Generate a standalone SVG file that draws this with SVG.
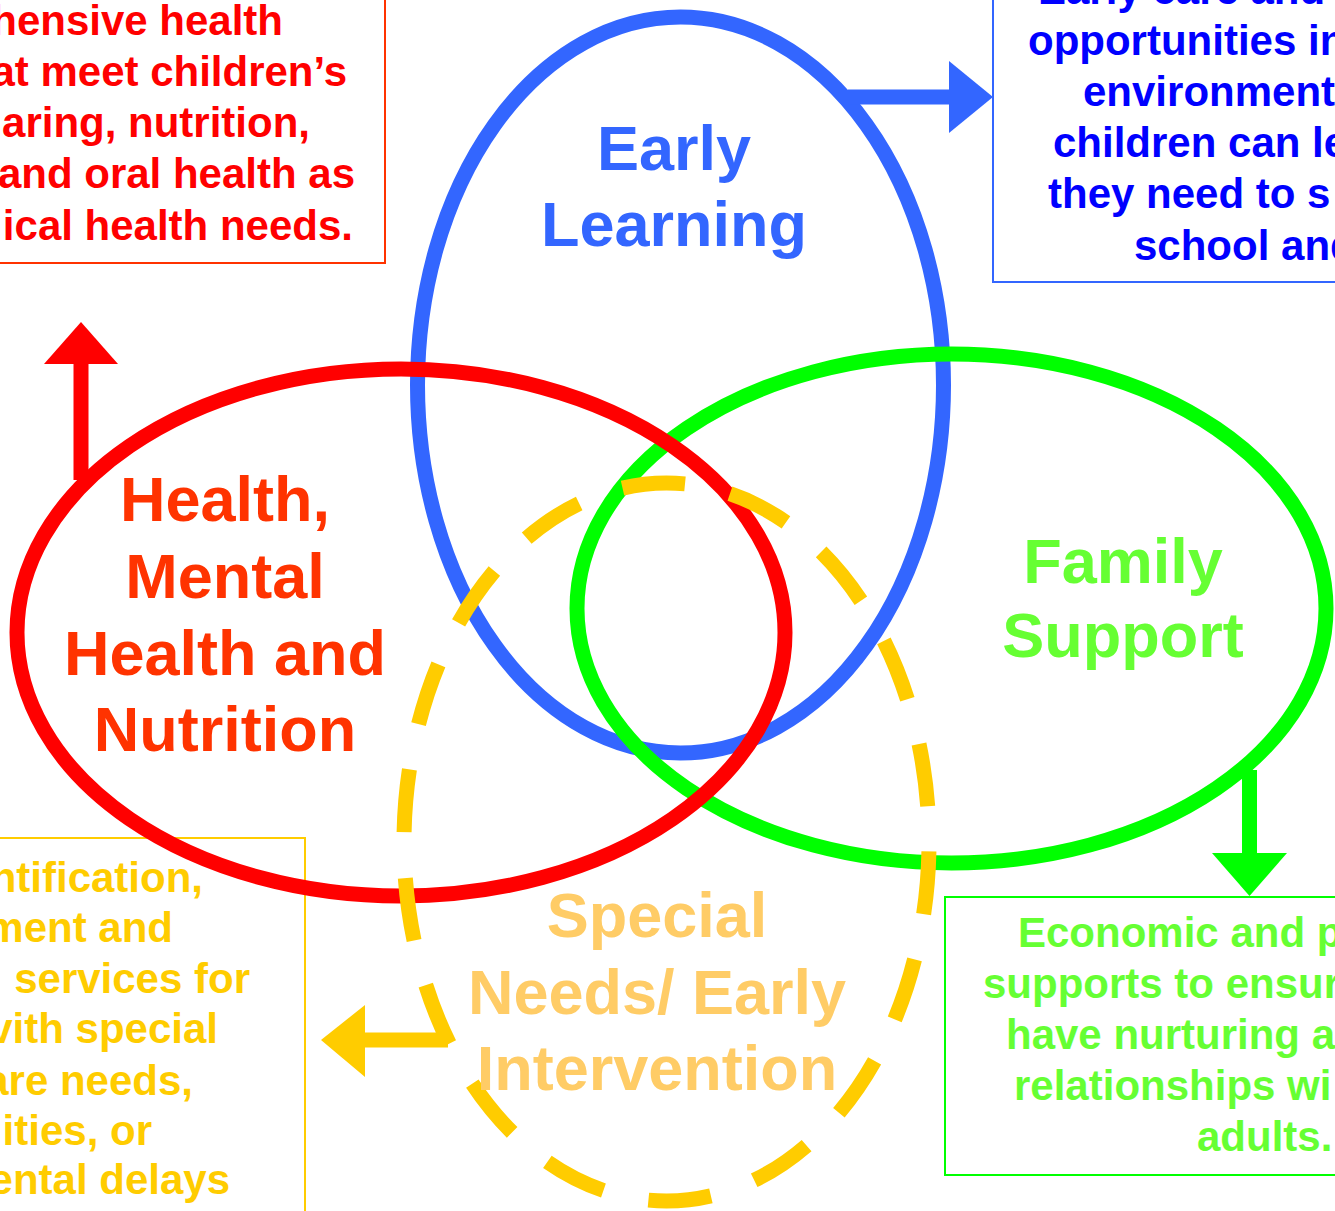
<svg xmlns="http://www.w3.org/2000/svg" width="1335" height="1211" viewBox="0 0 1335 1211">
<style>
  text { font-family: "Liberation Sans", Arial, sans-serif; font-weight: bold; }
  .box { fill: none; stroke-width: 2; }
  .ring { fill: none; stroke-width: 15; }
  .lbl { font-size: 63px; text-anchor: middle; }
  .desc { font-size: 42px; }
  .end { text-anchor: end; }
</style>
<rect width="1335" height="1211" fill="#ffffff"/>

<g id="box-health">
  <rect class="box" x="-10" y="-10" width="395" height="273" stroke="#ff3300"/>
  <g class="desc end" fill="#ff0000">
    <text x="283" y="35">hensive health</text>
    <text x="347" y="86">at meet children’s</text>
    <text x="310" y="137">aring, nutrition,</text>
    <text x="355" y="188">and oral health as</text>
    <text x="353" y="240">ical health needs.</text>
  </g>
</g>

<g id="box-learning">
  <rect class="box" x="993" y="-10" width="400" height="292" stroke="#3366ff"/>
  <g class="desc" fill="#0000ff">
    <text x="1038" y="4">Early care and</text>
    <text x="1028" y="55">opportunities in</text>
    <text x="1083" y="106">environment</text>
    <text x="1053" y="157">children can le</text>
    <text x="1048" y="208">they need to s</text>
    <text x="1134" y="260">school and</text>
  </g>
</g>

<g id="box-special">
  <rect class="box" x="-10" y="838" width="315" height="400" stroke="#ffcc00"/>
  <g class="desc end" fill="#ffcc00">
    <text x="203" y="892">ntification,</text>
    <text x="173" y="942">ment and</text>
    <text x="250" y="993">services for</text>
    <text x="218" y="1043">vith special</text>
    <text x="193" y="1095">are needs,</text>
    <text x="152" y="1145">ities, or</text>
    <text x="230" y="1194">ental delays</text>
  </g>
</g>

<g id="box-family">
  <rect class="box" x="945" y="897" width="420" height="278" stroke="#00ff00"/>
  <g class="desc" fill="#66ff33">
    <text x="1018" y="947">Economic and p</text>
    <text x="983" y="998">supports to ensur</text>
    <text x="1006" y="1049">have nurturing a</text>
    <text x="1014" y="1100">relationships wi</text>
    <text x="1197" y="1151">adults.</text>
  </g>
</g>

<g id="circle-learning">
  <ellipse class="ring" cx="680.5" cy="385" rx="263" ry="368" stroke="#3366ff"/>
</g>
<g id="circle-family">
  <ellipse class="ring" cx="951.5" cy="608.5" rx="374.5" ry="254.5" stroke="#00ff00"/>
</g>
<g id="circle-health">
  <ellipse class="ring" cx="401" cy="632.5" rx="384" ry="263.5" stroke="#ff0000"/>
</g>
<g id="circle-special">
  <ellipse class="ring" cx="666.5" cy="842" rx="262.5" ry="359" stroke="#ffcc00" stroke-dasharray="63 46.13" stroke-dashoffset="99.6"/>
</g>

<g id="connectors">
  <line x1="848" y1="97" x2="952" y2="97" stroke="#3366ff" stroke-width="15"/>
  <polygon points="949,61 993,97 949,133" fill="#3366ff"/>
  <line x1="81" y1="480" x2="81" y2="360" stroke="#ff0000" stroke-width="15"/>
  <polygon points="44,364 81,322 118,364" fill="#ff0000"/>
  <line x1="1249.5" y1="770" x2="1249.5" y2="856" stroke="#00ff00" stroke-width="15"/>
  <polygon points="1212,853 1249.5,896 1287,853" fill="#00ff00"/>
  <line x1="448" y1="1040" x2="362" y2="1040" stroke="#ffcc00" stroke-width="15"/>
  <polygon points="365,1005 321,1040 365,1077" fill="#ffcc00"/>
</g>

<g id="label-learning" class="lbl" fill="#3366ff">
  <text x="674" y="170">Early</text>
  <text x="674" y="246">Learning</text>
</g>
<g id="label-health" class="lbl" fill="#ff3300">
  <text x="225" y="521">Health,</text>
  <text x="225" y="598">Mental</text>
  <text x="225" y="675">Health and</text>
  <text x="225" y="751">Nutrition</text>
</g>
<g id="label-family" class="lbl" fill="#66ff33">
  <text x="1123" y="583">Family</text>
  <text x="1123" y="657">Support</text>
</g>
<g id="label-special" class="lbl" fill="#ffcc66">
  <text x="657" y="937">Special</text>
  <text x="657" y="1014">Needs/ Early</text>
  <text x="657" y="1090">Intervention</text>
</g>
</svg>
